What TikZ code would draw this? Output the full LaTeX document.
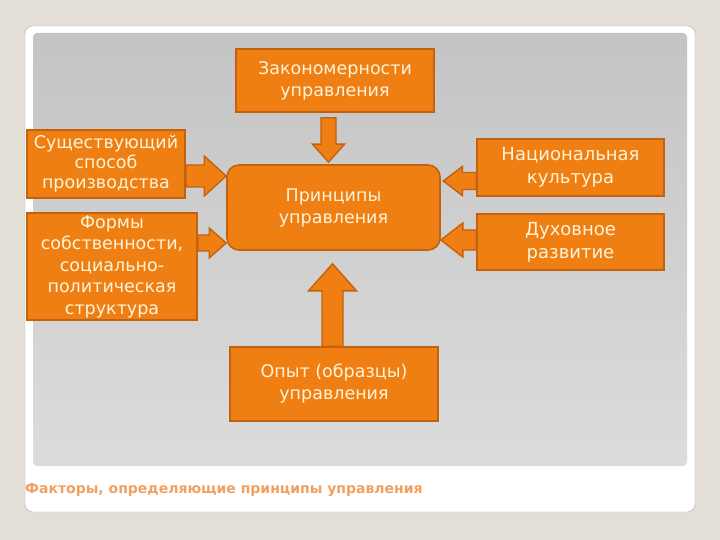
\documentclass[tikz,border=0pt]{standalone}
\usepackage{fontspec}
\setmainfont{DejaVu Sans}
\usetikzlibrary{calc, positioning}
\definecolor{slidebg}{HTML}{E3DED6}
\definecolor{frameline}{HTML}{B4B0AA}
\definecolor{paneltop}{HTML}{C4C4C4}
\definecolor{panelbottom}{HTML}{DCDCDC}
\definecolor{boxfill}{HTML}{EF7F12}
\definecolor{boxedge}{HTML}{C2610E}
\definecolor{boxtext}{HTML}{FFF4DA}
\definecolor{captext}{HTML}{F0A060}
\tikzset{
    % Orange factor boxes
    factor box/.style={rectangle, draw=boxedge, fill=boxfill, line width=1.6pt,
        text=boxtext, align=center, inner sep=0pt, font=\fontsize{17.5}{22}\selectfont},
    % Central box - rounded
    core box/.style={factor box, rounded corners=12pt},
    % Fat block arrows
    block arrow/.style={draw=boxedge, fill=boxfill, line width=1.4pt, line join=miter}
}
% fat arrow: start, tip, shaft half width, head half width, head length
\newcommand\fatarrow[5]{%
    \coordinate (fa-neck) at ($(#2)!#5!(#1)$);
    \draw[block arrow] ($(#1)!#3!90:(#2)$) -- ($(fa-neck)!#3!90:(#2)$)
        -- ($(fa-neck)!#4!90:(#2)$) -- (#2) -- ($(fa-neck)!#4!-90:(#2)$)
        -- ($(fa-neck)!#3!-90:(#2)$) -- ($(#1)!#3!-90:(#2)$) -- cycle;}

\begin{document}
\begin{tikzpicture}[x=1pt, y=-1pt]
    % --- Slide canvas ---
    \fill[slidebg] (0,0) rectangle (720,540);
    \draw[frameline, fill=white, rounded corners=8pt] (25,26) rectangle (695,512);
    \shade[top color=paneltop, bottom color=panelbottom, rounded corners=4pt] (33,33) rectangle (687,466);

    % --- Boxes ---
    \node[factor box, minimum width=198pt, minimum height=63pt] (laws) at (335,80.5)
        {Закономерности\\управления};
    \node[core box, minimum width=213pt, minimum height=85pt] (principles) at (333.5,207.5)
        {Принципы\\управления};
    \node[factor box, minimum width=158pt, minimum height=68pt, font=\fontsize{17.5}{20}\selectfont]
        (production) at (106,164) {Существующий\\способ\\производства};
    \node[factor box, minimum width=170pt, minimum height=107pt, font=\fontsize{17.5}{21.5}\selectfont]
        (ownership) at (112,266.5) {Формы\\собственности,\\социально-\\политическая\\структура};
    \node[factor box, minimum width=187pt, minimum height=57pt, font=\fontsize{18}{23}\selectfont]
        (culture) at (570.5,167.5) {Национальная\\культура};
    \node[factor box, minimum width=187pt, minimum height=56pt, font=\fontsize{18}{23}\selectfont]
        (spirit) at (570.5,242) {Духовное\\развитие};
    \node[factor box, minimum width=208pt, minimum height=74pt] (experience) at (334,384)
        {Опыт (образцы)\\управления};

    % --- Arrow ends ---
    \coordinate (laws-out) at ([xshift=-6.5pt, yshift=-5pt]laws.south);
    \coordinate (laws-in) at ([xshift=-5pt, yshift=2pt]principles.north);
    \coordinate (prod-out) at (production.east |- 0,176);
    \coordinate (prod-in) at (principles.west |- 0,176);
    \coordinate (own-out) at (ownership.east |- 0,243);
    \coordinate (own-in) at (principles.west |- 0,243);
    \coordinate (cult-out) at (culture.west |- 0,181);
    \coordinate (cult-in) at ([xshift=2.5pt]principles.east |- 0,181);
    \coordinate (spir-out) at (spirit.west |- 0,240);
    \coordinate (spir-in) at (principles.east |- 0,240);
    \coordinate (exp-out) at ([xshift=-1.5pt]experience.north);
    \coordinate (exp-in) at ([xshift=-1pt, yshift=-13pt]principles.south);

    % --- Arrows ---
    \fatarrow{laws-out}{laws-in}{7.5pt}{16pt}{18pt}
    \fatarrow{prod-out}{prod-in}{11pt}{20pt}{22pt}
    \fatarrow{own-out}{own-in}{8pt}{15pt}{17pt}
    \fatarrow{cult-out}{cult-in}{8.5pt}{14.5pt}{19pt}
    \fatarrow{spir-out}{spir-in}{10pt}{17pt}{22pt}
    \fatarrow{exp-out}{exp-in}{10.5pt}{24pt}{27pt}

    % --- Caption ---
    \node[anchor=west, text=captext, inner sep=0pt, font=\bfseries\fontsize{14}{16}\selectfont] (caption)
        at (25,490) {Факторы, определяющие принципы управления};
\end{tikzpicture}
\end{document}
